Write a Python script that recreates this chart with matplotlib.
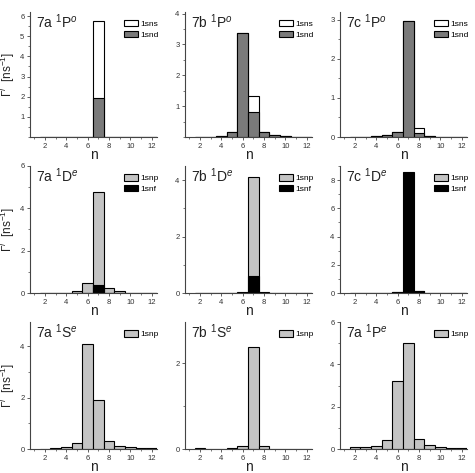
import matplotlib
matplotlib.use("Agg")
import matplotlib.pyplot as plt
from matplotlib.ticker import MultipleLocator, FixedLocator
import numpy as np

plt.rcParams['font.family'] = ['Liberation Sans', 'DejaVu Sans']
plt.rcParams['mathtext.fontset'] = 'custom'
plt.rcParams['mathtext.rm'] = 'Liberation Sans'
plt.rcParams['mathtext.it'] = 'Liberation Sans:italic'

n = [2, 3, 4, 5, 6, 7, 8, 9, 10, 11, 12]

# Panel 7a 1P^o (top-left)
p1_sns = [0.01, 0.01, 0.01, 0.01, 0.01, 5.75, 0.01, 0.01, 0.01, 0.01, 0.01]
p1_snd = [0.0, 0.0, 0.0, 0.0, 0.0, 1.93, 0.0, 0.0, 0.0, 0.0, 0.0]
# Panel 7b 1P^o
p2_sns = [0.01, 0.01, 0.04, 0.15, 3.37, 1.32, 0.17, 0.05, 0.02, 0.01, 0.01]
p2_snd = [0.01, 0.01, 0.04, 0.15, 3.37, 0.82, 0.17, 0.05, 0.02, 0.01, 0.01]
# Panel 7c 1P^o
p3_sns = [0.01, 0.01, 0.02, 0.04, 0.12, 2.98, 0.22, 0.03, 0.01, 0.01, 0.01]
p3_snd = [0.01, 0.01, 0.02, 0.04, 0.12, 2.98, 0.10, 0.03, 0.01, 0.01, 0.01]
# Panel 7a 1D^e
p4_snp = [0.01, 0.01, 0.02, 0.08, 0.48, 4.75, 0.24, 0.08, 0.02, 0.01, 0.01]
p4_snf = [0.0, 0.0, 0.0, 0.0, 0.02, 0.40, 0.01, 0.0, 0.0, 0.0, 0.0]
# Panel 7b 1D^e
p5_snp = [0.01, 0.01, 0.01, 0.01, 0.05, 4.10, 0.05, 0.01, 0.01, 0.01, 0.01]
p5_snf = [0.0, 0.0, 0.0, 0.0, 0.01, 0.62, 0.01, 0.0, 0.0, 0.0, 0.0]
# Panel 7c 1D^e
p6_snp = [0.01, 0.01, 0.01, 0.03, 0.08, 0.05, 0.13, 0.02, 0.01, 0.01, 0.01]
p6_snf = [0.01, 0.01, 0.01, 0.03, 0.08, 8.60, 0.13, 0.02, 0.01, 0.01, 0.01]
# Panel 7a 1S^e
p7_snp = [0.01, 0.02, 0.08, 0.22, 4.08, 1.90, 0.31, 0.13, 0.07, 0.03, 0.03]
# Panel 7b 1S^e
p8_snp = [0.02, 0.01, 0.01, 0.02, 0.08, 2.38, 0.06, 0.01, 0.01, 0.01, 0.01]
# Panel 7a 1P^e (bottom-right)
p9_snp = [0.08, 0.08, 0.14, 0.41, 3.20, 5.00, 0.47, 0.17, 0.08, 0.04, 0.03]

titles = [r'7a $^{1}$P$^{o}$', r'7b $^{1}$P$^{o}$', r'7c $^{1}$P$^{o}$',
          r'7a $^{1}$D$^{e}$', r'7b $^{1}$D$^{e}$', r'7c $^{1}$D$^{e}$',
          r'7a $^{1}$S$^{e}$', r'7b $^{1}$S$^{e}$', r'7a $^{1}$P$^{e}$']

C_SNS = 'white'
C_SND = '#7a7a7a'
C_SNP = '#c4c4c4'
C_SNF = 'black'

panels = [
    ([(p1_sns, C_SNS, '1sns'), (p1_snd, C_SND, '1snd')], (0, 6.2), [1, 2, 3, 4, 5, 6], 0.5),
    ([(p2_sns, C_SNS, '1sns'), (p2_snd, C_SND, '1snd')], (0, 4.05), [1, 2, 3, 4], 0.5),
    ([(p3_sns, C_SNS, '1sns'), (p3_snd, C_SND, '1snd')], (0, 3.2), [0, 1, 2, 3], 0.5),
    ([(p4_snp, C_SNP, '1snp'), (p4_snf, C_SNF, '1snf')], (0, 6.0), [0, 2, 4, 6], 1),
    ([(p5_snp, C_SNP, '1snp'), (p5_snf, C_SNF, '1snf')], (0, 4.5), [0, 2, 4], 1),
    ([(p6_snp, C_SNP, '1snp'), (p6_snf, C_SNF, '1snf')], (0, 9.0), [0, 2, 4, 6, 8], 1),
    ([(p7_snp, C_SNP, '1snp')], (0, 4.95), [0, 2, 4], 1),
    ([(p8_snp, C_SNP, '1snp')], (0, 2.97), [0, 2], 1),
    ([(p9_snp, C_SNP, '1snp')], (0, 6.0), [0, 2, 4, 6], 1),
]

W, H = 475, 473
fig = plt.figure(figsize=(W / 100, H / 100), dpi=100)

lefts = [30, 185, 340]
bottoms = [137, 293, 449]
tops = [12, 166, 322]
aw = 127

for i, (series, ylim, yt, minor) in enumerate(panels):
    r, c = divmod(i, 3)
    l = lefts[c]
    b = bottoms[r]
    t = tops[r]
    ax = fig.add_axes([l / W, 1 - b / H, aw / W, (b - t) / H])
    handles = []
    for vals, col, lab in series:
        h = ax.bar(n, vals, width=1.0, color=col, edgecolor='black', linewidth=0.8, label=lab)
        handles.append(h)
    ax.set_xlim(0.6, 12.5)
    ax.set_ylim(*ylim)
    ax.xaxis.set_major_locator(FixedLocator([2, 4, 6, 8, 10, 12]))
    ax.xaxis.set_minor_locator(MultipleLocator(1))
    ax.yaxis.set_major_locator(FixedLocator(yt))
    ax.yaxis.set_minor_locator(MultipleLocator(minor))
    for s in ['top', 'right']:
        ax.spines[s].set_visible(False)
    for s in ['left', 'bottom']:
        ax.spines[s].set_linewidth(0.8)
        ax.spines[s].set_color('#444444')
    ax.tick_params(axis='both', which='major', labelsize=5.5, length=2.5, width=0.6,
                   pad=1.5, colors='#444444', labelcolor='#333333')
    ax.tick_params(axis='both', which='minor', length=1.5, width=0.5, colors='#444444')
    ax.set_xlabel('n', fontsize=10, labelpad=-1, color='#222222')
    ax.text(0.05, 0.995, titles[i], transform=ax.transAxes, fontsize=10,
            va='top', ha='left', color='#222222')
    ax.legend(handles=handles, loc='upper right', bbox_to_anchor=(1.04, 0.96),
              frameon=False, fontsize=6, handlelength=1.7, handleheight=0.75,
              handletextpad=0.3, labelspacing=0.3, borderaxespad=0.0)
    if c == 0:
        ax.set_ylabel(r'$\Gamma^{l}$  [ns$^{-1}$]', fontsize=8.5, color='#222222',
                      va='center')
        ax.yaxis.set_label_coords(-0.175, 0.5)

fig.savefig('out.png', dpi=100)
